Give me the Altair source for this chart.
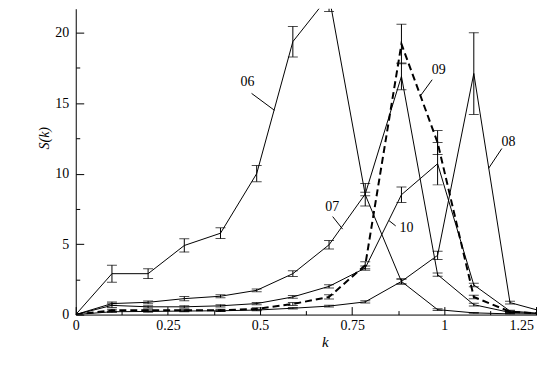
import altair as alt
import pandas as pd

FONT = "Liberation Serif"

# ---- data ----
K = [0.0, 0.0982, 0.1963, 0.2945, 0.3927, 0.4909, 0.5890, 0.6872, 0.7854, 0.8836, 0.9817, 1.0799, 1.1781, 1.2763]

S06 = [0, 2.9, 2.9, 4.9, 5.77, 10.0, 19.36, 22.6, 8.5, 2.35, 0.35, 0.12, 0.05, 0.02]
E06 = [0, 0.6, 0.35, 0.47, 0.38, 0.57, 1.08, 1.1, 0.8, 0.18, 0.06, 0.03, 0.02, 0.01]
S07 = [0, 0.78, 0.87, 1.13, 1.3, 1.72, 2.9, 4.95, 8.55, 16.9, 2.83, 0.7, 0.15, 0.05]
E07 = [0, 0.12, 0.1, 0.15, 0.1, 0.1, 0.2, 0.3, 0.12, 0.95, 0.12, 0.1, 0.04, 0.02]
S08 = [0, 0.2, 0.22, 0.25, 0.27, 0.32, 0.45, 0.6, 0.9, 2.35, 4.2, 17.1, 0.85, 0.15]
E08 = [0, 0.05, 0.05, 0.05, 0.05, 0.05, 0.05, 0.06, 0.08, 0.18, 0.3, 2.9, 0.1, 0.03]
S09 = [0, 0.3, 0.3, 0.3, 0.3, 0.4, 0.75, 1.25, 3.5, 19.2, 12.2, 1.25, 0.2, 0.05]
E09 = [0, 0.08, 0.08, 0.08, 0.08, 0.08, 0.1, 0.15, 0.25, 1.4, 0.85, 0.12, 0.05, 0.02]
S10 = [0, 0.65, 0.55, 0.55, 0.62, 0.78, 1.25, 2.0, 3.3, 8.5, 10.7, 2.1, 0.25, 0.05]
E10 = [0, 0.15, 0.08, 0.08, 0.08, 0.08, 0.1, 0.12, 0.15, 0.55, 1.5, 0.12, 0.05, 0.02]

SERIES = ["06", "07", "08", "09", "10"]
VALUES = [S06, S07, S08, S09, S10]
ERRORS = [E06, E07, E08, E09, E10]

# curve labels and their leader lines (data coordinates)
LAB_TEXT = ["06", "07", "10", "09", "08"]
LAB_K = [0.466, 0.696, 0.897, 0.985, 1.174]
LAB_S = [16.47, 7.63, 6.13, 17.36, 12.25]
LEAD_K1 = [0.477, 0.697, 0.868, 0.967, 1.156]
LEAD_S1 = [15.69, 6.95, 6.29, 16.66, 11.78]
LEAD_K2 = [0.539, 0.724, 0.850, 0.936, 1.120]
LEAD_S2 = [14.49, 6.06, 6.66, 15.55, 10.37]

X_MAJOR = [0, 0.25, 0.5, 0.75, 1, 1.25]
X_MINOR = [0.125, 0.375, 0.625, 0.875, 1.125]
Y_MAJOR = [0, 5, 10, 15, 20]
Y_MINOR = [2.5, 7.5, 12.5, 17.5]

rows = []
for name, vals, errs in zip(SERIES, VALUES, ERRORS):
    for k, s, e in zip(K, vals, errs):
        rows.append({"series": name, "k": k, "s": s, "e": e, "lo": s - e, "hi": s + e})
df = pd.DataFrame(rows)
err_df = df[df["e"] > 0]
lab_df = pd.DataFrame({"t": LAB_TEXT, "k": LAB_K, "s": LAB_S})
lead_df = pd.DataFrame({"k1": LEAD_K1, "s1": LEAD_S1, "k2": LEAD_K2, "s2": LEAD_S2})

W, H = 463, 307
XMAX = W / 370.0
YMAX = H / 14.15
xs = alt.Scale(domain=[0, XMAX], nice=False, zero=False)
ys = alt.Scale(domain=[0, YMAX], nice=False, zero=False)

# main axes: domain + labels + titles
ax_x_main = alt.Axis(orient="bottom", values=X_MAJOR, labelExpr="'' + datum.value",
                     ticks=False, grid=False,
                     domain=True, domainColor="black", domainWidth=1,
                     labelFont=FONT, labelFontSize=14, labelColor="black", labelPadding=4,
                     labelFlush=False, labelOverlap=False,
                     labelAlign={"condition": {"test": "datum.value >= 1.2", "value": "right"},
                                 "value": "center"},
                     labelOffset={"condition": {"test": "datum.value >= 1.2", "value": -3},
                                  "value": 0},
                     title="k", titleFont=FONT, titleFontSize=15, titleFontStyle="italic",
                     titleFontWeight="normal", titleColor="black",
                     titleX=250, titleY=27, titleBaseline="middle", titleAlign="center")
ax_y_main = alt.Axis(orient="left", values=Y_MAJOR, labelExpr="'' + datum.value",
                     ticks=False, grid=False,
                     domain=True, domainColor="black", domainWidth=1,
                     labelFont=FONT, labelFontSize=14, labelColor="black", labelPadding=7,
                     labelOverlap=False,
                     title="S(k)", titleFont=FONT, titleFontSize=14, titleFontStyle="italic",
                     titleFontWeight="normal", titleColor="black",
                     titleX=-31, titleY=129.5, titleBaseline="middle", titleAlign="center")
# inward major ticks
ax_x_major = alt.Axis(orient="bottom", offset=-8, tickSize=8, values=X_MAJOR, labels=False,
                      domain=False, grid=False, title=None, tickColor="black", tickWidth=1)
ax_y_major = alt.Axis(orient="left", offset=-8, tickSize=8, values=Y_MAJOR, labels=False,
                      domain=False, grid=False, title=None, tickColor="black", tickWidth=1)
# inward minor ticks
ax_x_minor = alt.Axis(orient="bottom", offset=-4, tickSize=4, values=X_MINOR, labels=False,
                      domain=False, grid=False, title=None, tickColor="black", tickWidth=1)
ax_y_minor = alt.Axis(orient="left", offset=-4, tickSize=4, values=Y_MINOR, labels=False,
                      domain=False, grid=False, title=None, tickColor="black", tickWidth=1)

solid = alt.Chart(df[df["series"] != "09"]).mark_line(
    color="black", strokeWidth=1, clip=True
).encode(
    x=alt.X("k:Q", scale=xs, axis=ax_x_main),
    y=alt.Y("s:Q", scale=ys, axis=ax_y_main),
    detail="series:N",
    order="k:Q",
)

dashed = alt.Chart(df[df["series"] == "09"]).mark_line(
    color="black", strokeWidth=2, strokeDash=[7, 4], clip=True
).encode(
    x=alt.X("k:Q", scale=xs, axis=ax_x_major),
    y=alt.Y("s:Q", scale=ys, axis=ax_y_major),
    order="k:Q",
)

bars = alt.Chart(err_df).mark_rule(color="black", strokeWidth=1, clip=True).encode(
    x=alt.X("k:Q", scale=xs, axis=ax_x_minor),
    y=alt.Y("lo:Q", scale=ys, axis=ax_y_minor),
    y2="hi:Q",
)

caps_lo = alt.Chart(err_df).mark_tick(color="black", orient="horizontal", size=10,
                                       thickness=1, clip=True).encode(
    x=alt.X("k:Q", scale=xs, axis=None),
    y=alt.Y("lo:Q", scale=ys, axis=None),
)
caps_hi = alt.Chart(err_df).mark_tick(color="black", orient="horizontal", size=10,
                                       thickness=1, clip=True).encode(
    x=alt.X("k:Q", scale=xs, axis=None),
    y=alt.Y("hi:Q", scale=ys, axis=None),
)

leaders = alt.Chart(lead_df).mark_rule(color="black", strokeWidth=1).encode(
    x=alt.X("k1:Q", scale=xs, axis=None),
    x2="k2:Q",
    y=alt.Y("s1:Q", scale=ys, axis=None),
    y2="s2:Q",
)

labels = alt.Chart(lab_df).mark_text(font=FONT, fontSize=14, color="black",
                                     align="center", baseline="middle").encode(
    x=alt.X("k:Q", scale=xs, axis=None),
    y=alt.Y("s:Q", scale=ys, axis=None),
    text="t:N",
)

chart = alt.layer(solid, dashed, bars, caps_lo, caps_hi, leaders, labels).resolve_axis(
    x="independent", y="independent"
).properties(
    width=W, height=H,
    autosize=alt.AutoSizeParams(type="none"),
    padding={"left": 68, "top": 0, "right": 0, "bottom": 76},
    background="white",
).configure_view(stroke=None)

chart.save("out.html", embed_options={"renderer": "svg", "actions": False})
